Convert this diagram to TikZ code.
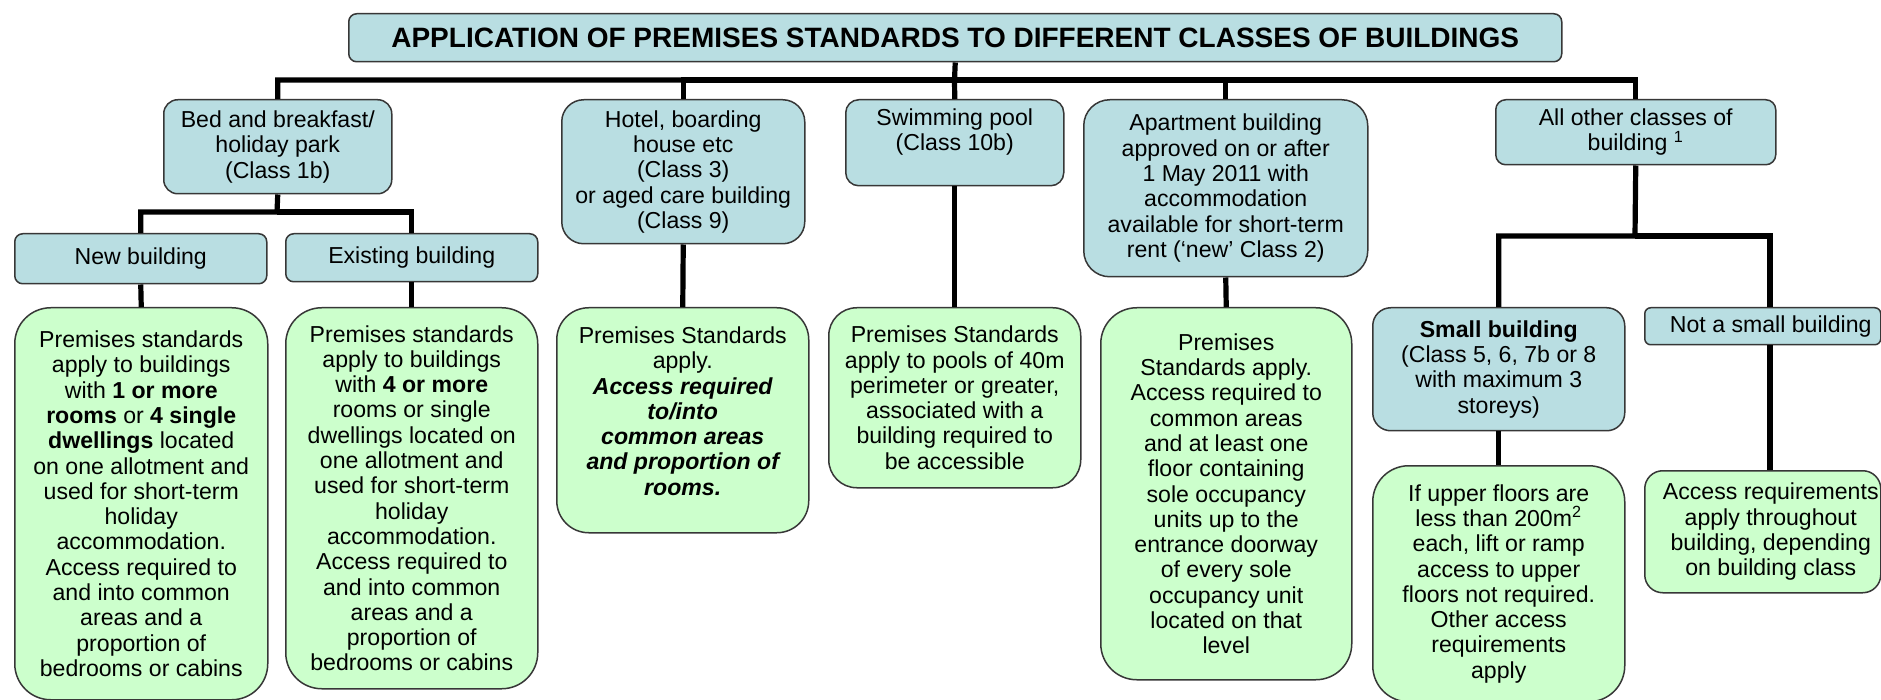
\documentclass[tikz,border=0pt]{standalone}
\usepackage{fontspec}
\setmainfont{Liberation Sans}
\definecolor{boxblue}{RGB}{185,222,226}
\definecolor{boxgreen}{RGB}{204,255,204}
\definecolor{edgegray}{RGB}{55,55,55}
% box contents: width, height, text (centred vertically)
\newcommand{\bxc}[3]{\parbox[c][#2][c]{#1}{\centering #3\par}}
% box contents: width, height, top padding, text (from the top)
\newcommand{\bxt}[4]{\parbox[c][#2][t]{#1}{\centering\vspace*{#3}#4\par}}
% box contents centred slightly right of the box middle
\newcommand{\bxs}[3]{\parbox[c][#2][c]{#1}{\centering\leftskip=8pt plus 1fil #3\par}}
\begin{document}
\begin{tikzpicture}[x=0.5pt,y=-0.5pt,
  box/.style={draw=edgegray,line width=0.75pt,inner sep=0pt,anchor=north west,
              font=\fontsize{11.55}{12.65}\selectfont},
  bluebox/.style={box,fill=boxblue},
  greenbox/.style={box,fill=boxgreen},
  conn/.style={line width=2.6pt,draw=black}]
\path[use as bounding box] (0,0) rectangle (1881,700);
\clip (0,0) rectangle (1881,700);
\fill[white] (0,0) rectangle (1881,700);

% heading
\node[bluebox,rounded corners=4pt,font=\fontsize{14}{16}\selectfont\bfseries] (title) at (348,13)
  {\bxc{606.5pt}{24pt}{APPLICATION OF PREMISES STANDARDS TO DIFFERENT CLASSES OF BUILDINGS}};

% building classes
\node[bluebox,rounded corners=7pt] (bed) at (163,99)
  {\bxc{114pt}{47pt}{Bed and breakfast/\\holiday park\\(Class 1b)}};
\node[bluebox,rounded corners=11pt] (hotel) at (561,99)
  {\bxc{121.5pt}{72pt}{Hotel, boarding\\house etc\\(Class 3)\\or aged care building\\(Class 9)}};
\node[bluebox,rounded corners=6.5pt] (swim) at (845,99)
  {\bxt{109pt}{43pt}{4.5pt}{Swimming pool\\(Class 10b)}};
\node[bluebox,rounded corners=13pt] (apt) at (1083,99)
  {\bxc{142pt}{88.5pt}{Apartment building\\approved on or after\\1 May 2011 with\\accommodation\\available for short-term\\rent (‘new’ Class 2)}};
\node[bluebox,rounded corners=5pt] (allother) at (1495,99)
  {\bxc{140pt}{32.5pt}{All other classes of\\building \textsuperscript{1}}};

% new / existing
\node[bluebox,rounded corners=4pt] (newb) at (14,233)
  {\bxc{126pt}{25pt}{New building}};
\node[bluebox,rounded corners=4pt] (exist) at (285,233)
  {\bxc{126pt}{24pt}{Existing building}};

% small / not small
\node[bluebox,rounded corners=9pt] (small) at (1372,307)
  {\bxc{126pt}{61.5pt}{\textbf{Small building}\\(Class 5, 6, 7b or 8\\with maximum 3\\storeys)}};
\node[bluebox,rounded corners=3pt] (ns) at (1644,307)
  {\bxs{118pt}{18.5pt}{Not a small building}};

% requirements
\node[greenbox,rounded corners=18pt] (g1) at (14,307)
  {\bxc{126.5pt}{196pt}{Premises standards\\apply to buildings\\with \textbf{1 or more}\\\textbf{rooms} or \textbf{4 single}\\\textbf{dwellings} located\\on one allotment and\\used for short-term\\holiday\\accommodation.\\Access required to\\and into common\\areas and a\\proportion of\\bedrooms or cabins}};
\node[greenbox,rounded corners=18pt] (g2) at (285,307)
  {\bxc{126pt}{190.5pt}{Premises standards\\apply to buildings\\with \textbf{4 or more}\\rooms or single\\dwellings located on\\one allotment and\\used for short-term\\holiday\\accommodation.\\Access required to\\and into common\\areas and a\\proportion of\\bedrooms or cabins}};
\node[greenbox,rounded corners=16pt] (g3) at (556,307)
  {\bxt{126pt}{112.5pt}{9.5pt}{Premises Standards\\apply.\\\textbf{\textit{Access required\\to/into\\common areas\\and proportion of\\rooms.}}}};
\node[greenbox,rounded corners=14pt] (g4) at (828,307)
  {\bxc{126pt}{90pt}{Premises Standards\\apply to pools of 40m\\perimeter or greater,\\associated with a\\building required to\\be accessible}};
\node[greenbox,rounded corners=18pt] (g5) at (1100,307)
  {\bxc{125.5pt}{186pt}{Premises\\Standards apply.\\Access required to\\common areas\\and at least one\\floor containing\\sole occupancy\\units up to the\\entrance doorway\\of every sole\\occupancy unit\\located on that\\level}};
\node[greenbox,rounded corners=18pt] (sg) at (1372,465)
  {\bxc{126pt}{118pt}{If upper floors are\\less than 200m\textsuperscript{2}\\each, lift or ramp\\access to upper\\floors not required.\\Other access\\requirements\\apply}};
\node[greenbox,rounded corners=9pt] (nsg) at (1644,470)
  {\bxs{118pt}{61pt}{Access requirements\\apply throughout\\building, depending\\on building class}};

% junction points of the tree
\coordinate (jT) at (954.5,80);
\coordinate (jB) at (277,212);
\coordinate (jA) at (1635,236);
\coordinate (jN) at (1770,236);

% connectors
\draw[conn] (title.south) -- (jT) -| (bed.north);
\draw[conn] (jT) -| (hotel.north);
\draw[conn] (jT) -- (swim.north);
\draw[conn] (jT) -| (apt.north);
\draw[conn] (jT) -| (allother.north);

\draw[conn] (bed.south) -- (jB) -| (newb.north);
\draw[conn] (jB) -| (exist.north);
\draw[conn] (newb.south) -- (g1.north);
\draw[conn] (exist.south) -- (g2.north);

\draw[conn] (hotel.south) -- (g3.north);
\draw[conn] (swim.south) -- (g4.north);
\draw[conn] (apt.south) -- (g5.north);

\draw[conn] (allother.south) -- (jA) -| (small.north);
\draw[conn] (jA) -- (jN) -- (ns.north -| jN);
\draw[conn] (small.south) -- (sg.north);
\draw[conn] (ns.south -| jN) -- (nsg.north -| jN);
\end{tikzpicture}
\end{document}
